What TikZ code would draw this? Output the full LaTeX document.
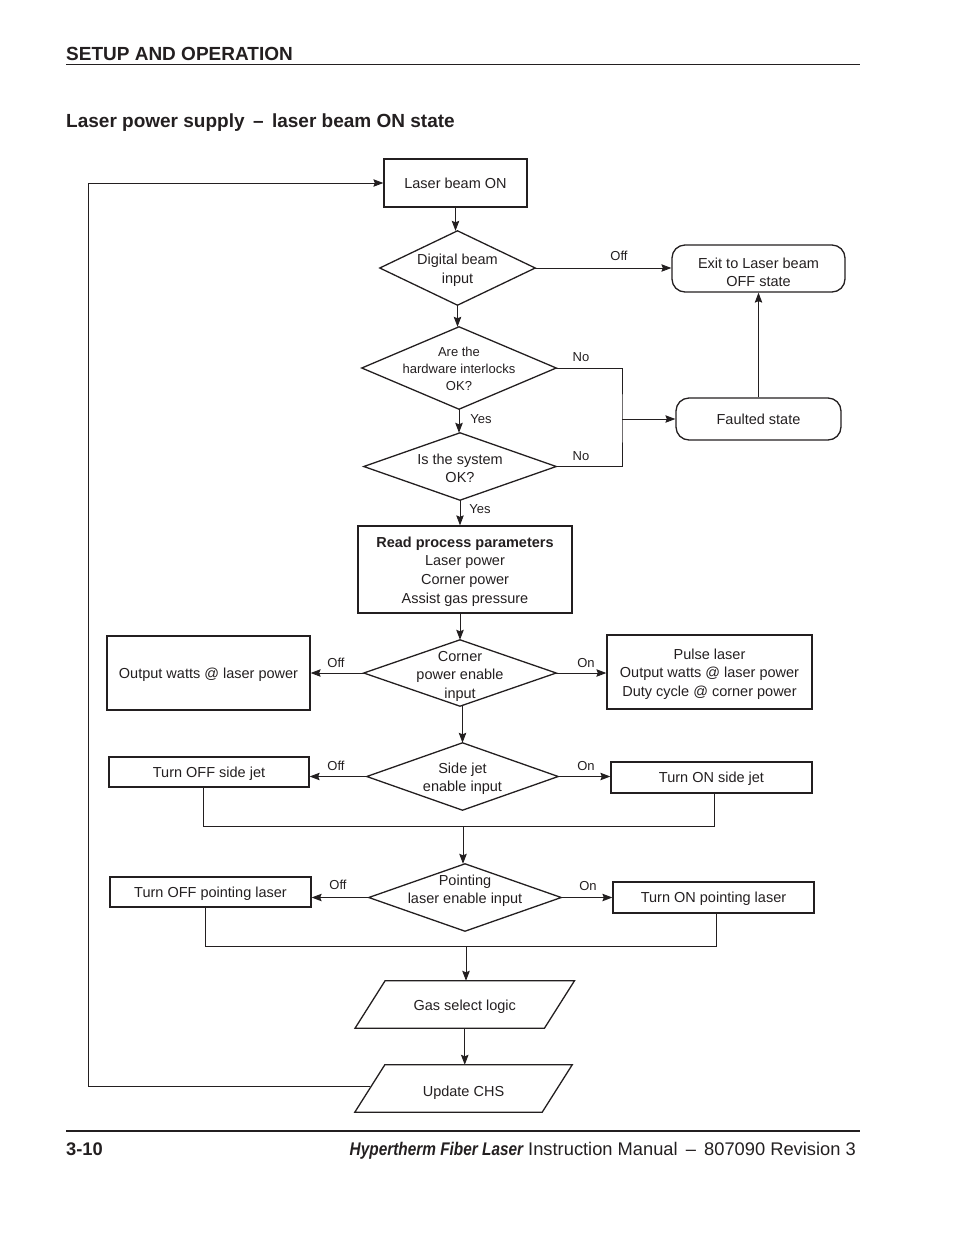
\documentclass[tikz,border=0pt]{standalone}
\usepackage{fontspec}
\setmainfont{Liberation Sans}
\newfontfamily\condsans[FakeStretch=0.84]{Liberation Sans}
\usetikzlibrary{arrows.meta,calc}
\newcommand\dgmfont{\fontsize{14.5}{18.5}\selectfont}
\newcommand\smlfont{\fontsize{13}{17}\selectfont}
\newcommand\labfont{\fontsize{13}{15}\selectfont}
\newcommand\hdfont{\fontsize{19}{22}\selectfont}
\newcommand\ftfont{\fontsize{18.3}{22}\selectfont}
\definecolor{ink}{HTML}{231F20}
\tikzset{
  proc/.style={draw=ink, line width=1.3pt, inner sep=0pt},
  term/.style={proc, rounded corners=13pt},
  dec/.style={inner sep=0pt},
  txt/.style={text=ink, inner sep=0pt, align=center, font=\dgmfont},
  outl/.style={draw=ink, line width=1.3pt, line join=miter},
  arr/.style={draw=ink, line width=0.9pt, -{Stealth[length=10pt,width=7.5pt,inset=1.5pt]}},
  conn/.style={draw=ink, line width=0.9pt},
  lab/.style={text=ink, font=\labfont, inner sep=0pt},
}
\begin{document}
\begin{tikzpicture}[x=1pt,y=-1pt]
\useasboundingbox (0,0) rectangle (954,1235);
% header
\node[anchor=base west, text=ink, font=\hdfont\bfseries, inner sep=0pt] (hdr) at (66,60) {SETUP AND OPERATION};
\draw[ink, line width=1pt] (66,64.5) -- (860,64.5);
\node[anchor=base west, text=ink, font=\hdfont\bfseries, inner sep=0pt] (ttl) at (66,127) {Laser power supply \,\textendash\, laser beam ON state};
% footer
\draw[ink, line width=2pt] (66,1131) -- (860,1131);
\node[anchor=base west, text=ink, font=\ftfont\bfseries, inner sep=0pt] (pg) at (66,1155) {3-10};
\node[anchor=base east, text=ink, font=\ftfont, inner sep=0pt] (man) at (856,1155) {{\condsans\bfseries\itshape Hypertherm Fiber Laser} Instruction Manual \,\textendash\, 807090 Revision 3};

% shapes
\node[proc, minimum width=143pt, minimum height=48pt] (beamon) at (455.5,183) {};
\node[dec, minimum width=155pt, minimum height=74pt] (dig) at (457.5,268) {};
\node[term, minimum width=173pt, minimum height=47pt] (exit) at (758.5,268.5) {};
\node[dec, minimum width=194pt, minimum height=82pt] (hw) at (459,368) {};
\node[term, minimum width=165pt, minimum height=42pt] (faulted) at (758.5,419) {};
\node[dec, minimum width=192pt, minimum height=67pt] (sys) at (460,466.5) {};
\node[proc, minimum width=214pt, minimum height=87pt] (read) at (465,569.5) {};
\node[dec, minimum width=192pt, minimum height=66pt] (corner) at (460,673) {};
\node[proc, minimum width=203pt, minimum height=74pt] (outw) at (208.5,673) {};
\node[proc, minimum width=205pt, minimum height=74pt] (pulse) at (709.5,672) {};
\node[dec, minimum width=191pt, minimum height=67pt] (side) at (462.5,776.5) {};
\node[proc, minimum width=200pt, minimum height=30pt] (offjet) at (209,772) {};
\node[proc, minimum width=201pt, minimum height=31pt] (onjet) at (711.5,777.5) {};
\node[dec, minimum width=192pt, minimum height=67pt] (point) at (465,897.5) {};
\node[proc, minimum width=201pt, minimum height=30pt] (offpt) at (210.5,892) {};
\node[proc, minimum width=201pt, minimum height=31pt] (onpt) at (713.5,897.5) {};
\node[dec, minimum width=189pt, minimum height=47pt] (gas) at (464.75,1004.5) {};
\node[dec, minimum width=187pt, minimum height=47pt] (update) at (463.5,1088.5) {};

% decision outlines
\foreach \n in {dig,hw,sys,corner,side,point}
  \draw[outl] (\n.north) -- (\n.east) -- (\n.south) -- (\n.west) -- cycle;
% input/output outlines
\foreach \n in {gas,update}
  \draw[outl] ([xshift=15pt]\n.north west) -- ([xshift=15pt]\n.north east) -- ([xshift=-15pt]\n.south east) -- ([xshift=-15pt]\n.south west) -- cycle;

% texts
\node[txt] (beamon-t) at (beamon.center) {Laser beam ON};
\node[txt] (dig-t) at ([yshift=-2pt]dig.center) {Digital beam\\input};
\node[txt] (exit-t) at ([yshift=-4pt]exit.center) {Exit to Laser beam\\OFF state};
\node[txt, font=\smlfont] (hw-t) at ([yshift=-1pt]hw.center) {Are the\\hardware interlocks\\OK?};
\node[txt] (faulted-t) at (faulted.center) {Faulted state};
\node[txt] (sys-t) at ([yshift=-2pt]sys.center) {Is the system\\OK?};
\node[txt, font=\fontsize{14.5}{18.7}\selectfont] (read-t) at ([yshift=-2pt]read.center) {\textbf{Read process parameters}\\Laser power\\Corner power\\Assist gas pressure};
\node[txt] (corner-t) at ([yshift=-3pt]corner.center) {Corner\\power enable\\input};
\node[txt] (outw-t) at ([yshift=-1.5pt]outw.center) {Output watts @ laser power};
\node[txt] (pulse-t) at ([yshift=-2pt]pulse.center) {Pulse laser\\Output watts @ laser power\\Duty cycle @ corner power};
\node[txt] (side-t) at ([yshift=-2pt]side.center) {Side jet\\enable input};
\node[txt] (offjet-t) at ([yshift=-1.5pt]offjet.center) {Turn OFF side jet};
\node[txt] (onjet-t) at ([yshift=-1.5pt]onjet.center) {Turn ON side jet};
\node[txt] (point-t) at ([yshift=7pt]point.center) {Pointing\\laser enable input};
\node[txt] (offpt-t) at ([yshift=-1.5pt]offpt.center) {Turn OFF pointing laser};
\node[txt] (onpt-t) at ([yshift=-1pt]onpt.center) {Turn ON pointing laser};
\node[txt] (gas-t) at ([yshift=-2pt]gas.center) {Gas select logic};
\node[txt] (update-t) at ([yshift=-4.5pt]update.center) {Update CHS};

% connectors
\draw[arr] (beamon.south) -- (beamon.south |- dig.north);
\draw[arr] (dig.east) -- (dig.east -| exit.west);
\draw[arr] (dig.south) -- (dig.south |- hw.north);
\coordinate (jn) at (622,419);
\draw[conn] (hw.east) -| (jn) |- (sys.east);
\draw[arr] (jn) -- (faulted.west);
\draw[arr] (faulted.north) -- (exit.south);
\draw[arr] (hw.south) -- (hw.south |- sys.north);
\draw[arr] (sys.south) -- (sys.south |- read.north);
\draw[arr] (corner.north |- read.south) -- (corner.north);
\draw[arr] (corner.west) -- (corner.west -| outw.east);
\draw[arr] (corner.east) -- (corner.east -| pulse.west);
\draw[arr] (side.north |- corner.south) -- (side.north);
\draw[arr] (side.west) -- (side.west -| offjet.east);
\draw[arr] (side.east) -- (side.east -| onjet.west);
\coordinate (m1) at (463,826);
\coordinate (b1) at (203,787);
\coordinate (b2) at (714.5,793);
\draw[conn] (b1) |- (m1) -| (b2);
\draw[arr] (m1) -- (m1 |- point.north);
\draw[arr] (point.west) -- (point.west -| offpt.east);
\draw[arr] (point.east) -- (point.east -| onpt.west);
\coordinate (m2) at (466,946);
\coordinate (b3) at (205,907);
\coordinate (b4) at (716,913);
\draw[conn] (b3) |- (m2) -| (b4);
\draw[arr] (m2) -- (m2 |- gas.north);
\draw[arr] (gas.south) -- (gas.south |- update.north);
\coordinate (loopc) at (88,1086);
\draw[arr] (loopc -| update.west) -- (loopc) |- (beamon.west);

% branch labels
\node[lab] (l1) at (619,256) {Off};
\node[lab] (l2) at (581,357) {No};
\node[lab] (l3) at (581,456) {No};
\node[lab] (l4) at (481,419) {Yes};
\node[lab] (l5) at (480,509) {Yes};
\node[lab] (l6) at (336,663) {Off};
\node[lab] (l7) at (586,663) {On};
\node[lab] (l8) at (336,766) {Off};
\node[lab] (l9) at (586,766) {On};
\node[lab] (l10) at (338,885) {Off};
\node[lab] (l11) at (588,886) {On};
\end{tikzpicture}
\end{document}
